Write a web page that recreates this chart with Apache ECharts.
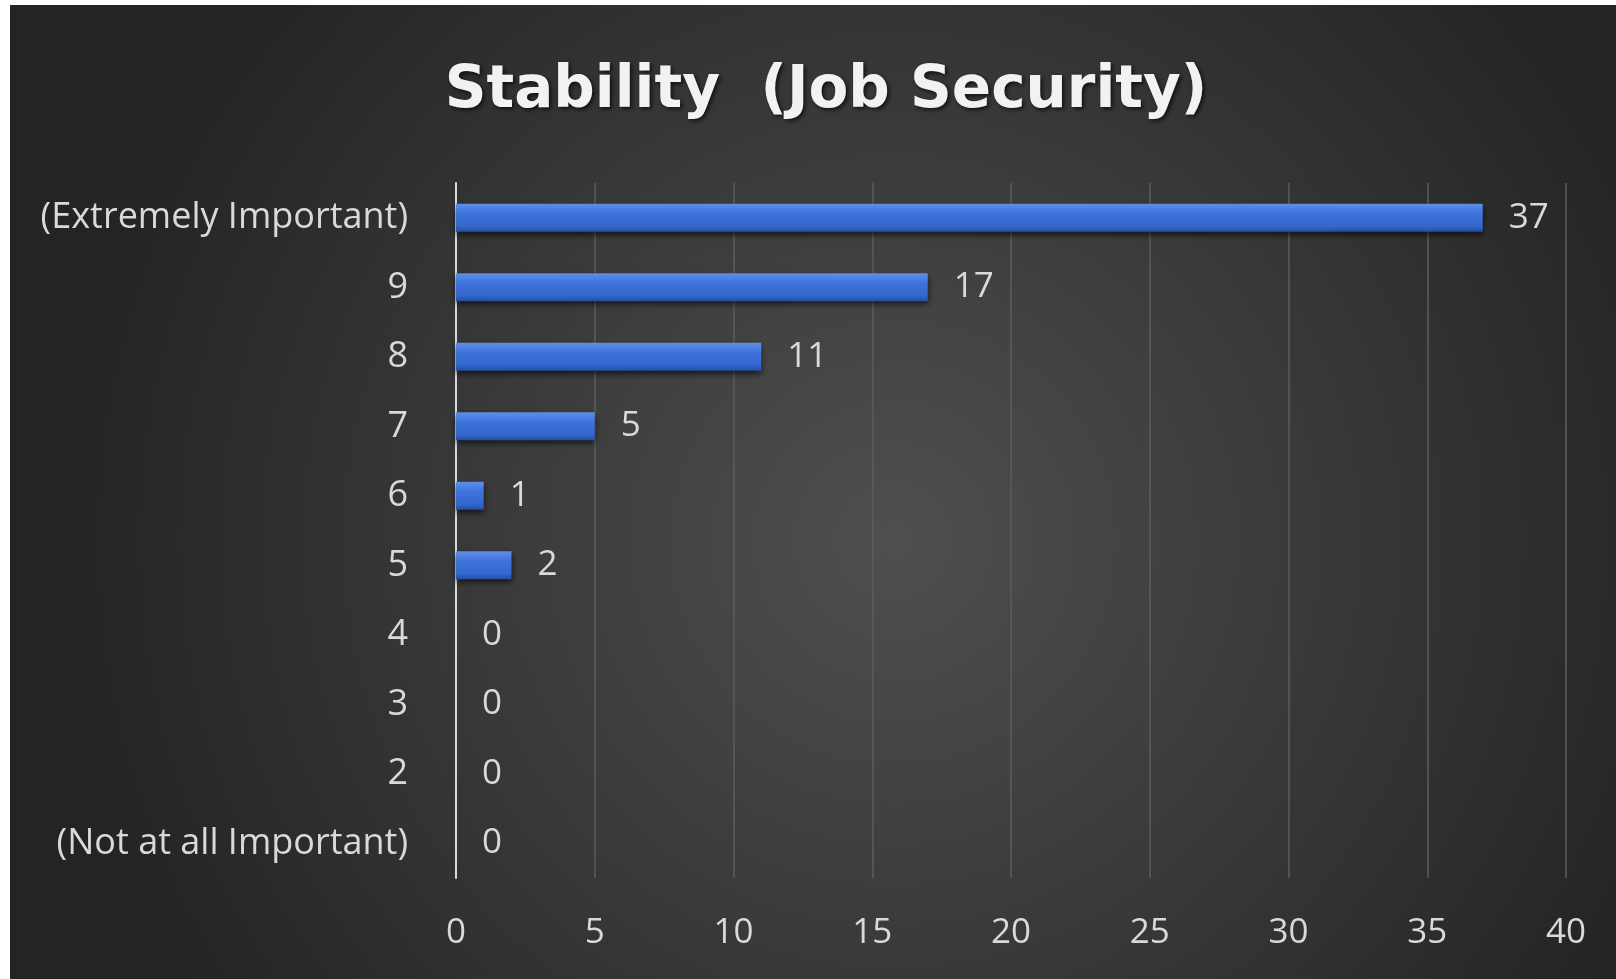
<!DOCTYPE html>
<html>
<head>
<meta charset="utf-8">
<script src="https://cdn.jsdelivr.net/npm/echarts@6/dist/echarts.min.js"></script>
<style>
html,body{margin:0;padding:0;background:#ffffff;width:1616px;height:979px;overflow:hidden;}
#chart{position:absolute;left:10px;top:5px;width:1606px;height:974px;}
</style>
</head>
<body>
<div id="chart"></div>
<script>
const titleText = 'Stability  (Job Security)';
const categories = ['(Not at all Important)', '2', '3', '4', '5', '6', '7', '8', '9', '(Extremely Important)'];
const counts = [0, 0, 0, 0, 2, 1, 5, 11, 17, 37];
const xTicks = { min: 0, max: 40, interval: 5 };

const chart = echarts.init(document.getElementById('chart'), null, { renderer: 'canvas' });
const labelColor = '#d9d9d9';
const labelFont = '"Open Sans", sans-serif';

chart.setOption({
  backgroundColor: {
    type: 'radial', x: 0.55, y: 0.55, r: 0.85,
    colorStops: [
      { offset: 0, color: '#4f4f4f' },
      { offset: 1, color: '#242424' }
    ]
  },
  animation: false,
  title: {
    text: titleText,
    left: 811,
    textAlign: 'center',
    top: 53,
    textStyle: {
      fontFamily: '"DejaVu Sans", sans-serif',
      fontWeight: 'bold',
      fontSize: 58,
      color: '#f2f2f2',
      textShadowColor: 'rgba(0,0,0,0.7)',
      textShadowBlur: 4,
      textShadowOffsetX: 2,
      textShadowOffsetY: 2
    }
  },
  grid: { left: 446, right: 50, top: 178, bottom: 101, containLabel: false },
  xAxis: {
    type: 'value',
    min: xTicks.min, max: xTicks.max, interval: xTicks.interval,
    axisLine: { show: false },
    axisTick: { show: false },
    splitLine: { show: true, lineStyle: { color: '#5c5c5c', width: 1.5 } },
    axisLabel: { color: labelColor, fontFamily: labelFont, fontSize: 35, margin: 38 }
  },
  yAxis: {
    type: 'category',
    data: categories,
    axisLine: { show: true, lineStyle: { color: '#d9d9d9', width: 2 } },
    axisTick: { show: false },
    splitLine: { show: false },
    axisLabel: { color: labelColor, fontFamily: labelFont, fontSize: 36, margin: 48 }
  },
  series: [{
    type: 'bar',
    data: counts,
    barWidth: 28,
    itemStyle: {
      color: {
        type: 'linear', x: 0, y: 0, x2: 0, y2: 1,
        colorStops: [
          { offset: 0, color: '#5e90e8' },
          { offset: 0.35, color: '#3e73dc' },
          { offset: 0.8, color: '#3467cc' },
          { offset: 1, color: '#244fa2' }
        ]
      },
      shadowColor: 'rgba(0,0,0,0.65)',
      shadowBlur: 6,
      shadowOffsetY: 3
    },
    label: {
      show: true,
      position: 'right',
      distance: 26,
      color: labelColor,
      fontFamily: labelFont,
      fontSize: 35
    }
  }]
});
</script>
</body>
</html>
